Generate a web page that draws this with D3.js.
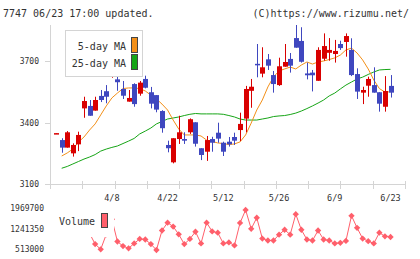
<!DOCTYPE html>
<html>
<head>
<meta charset="utf-8">
<script src="https://cdn.jsdelivr.net/npm/d3@7"></script>
<style>
body { margin: 0; background: #fff; }
svg text { font-family: "DejaVu Sans Mono", monospace; fill: #333; }
</style>
</head>
<body>
<div id="canvas"></div>
<script>
"use strict"

/* Daily prices, one entry per trading day (61 days, last one is 6/23) */
let opens = [3346, 3315, 3278, 3250, 3294, 3470, 3482, 3459, 3531, 3554,
    3650, 3612, 3565, 3503, 3589, 3542, 3614, 3549, 3535, 3457,
    3291, 3206, 3320, 3320, 3353, 3402, 3275, 3258, 3320, 3351,
    3302, 3307, 3330, 3364, 3420, 3556, 3688, 3640, 3710, 3633,
    3584, 3674, 3712, 3814, 3800, 3641, 3645, 3605, 3713, 3742,
    3736, 3785, 3795, 3756, 3638, 3547, 3581, 3584, 3549, 3478, 3580];
let highs = [3349, 3324, 3359, 3299, 3356, 3527, 3511, 3527, 3560, 3584,
    3695, 3625, 3604, 3560, 3593, 3604, 3630, 3575, 3535, 3461,
    3312, 3324, 3434, 3353, 3421, 3402, 3275, 3335, 3331, 3400,
    3307, 3330, 3351, 3449, 3580, 3614, 3785, 3769, 3736, 3653,
    3718, 3785, 3741, 3878, 3867, 3694, 3658, 3769, 3837, 3814,
    3805, 3801, 3837, 3813, 3666, 3576, 3625, 3671, 3549, 3628, 3633];
let lows = [3346, 3253, 3278, 3234, 3261, 3424, 3434, 3459, 3501, 3495,
    3620, 3556, 3516, 3503, 3478, 3532, 3568, 3470, 3451, 3351,
    3255, 3201, 3296, 3296, 3345, 3283, 3217, 3213, 3258, 3302,
    3237, 3283, 3291, 3310, 3353, 3473, 3622, 3622, 3658, 3547,
    3580, 3674, 3645, 3767, 3694, 3612, 3553, 3605, 3703, 3703,
    3694, 3756, 3723, 3628, 3516, 3491, 3527, 3547, 3454, 3454, 3523];
let closes = [3349, 3278, 3353, 3291, 3340, 3506, 3434, 3511, 3511, 3527,
    3686, 3598, 3532, 3521, 3491, 3596, 3571, 3493, 3464, 3373,
    3275, 3324, 3353, 3312, 3417, 3297, 3242, 3315, 3302, 3322,
    3258, 3294, 3312, 3394, 3565, 3576, 3685, 3671, 3679, 3589,
    3676, 3697, 3679, 3767, 3698, 3632, 3632, 3756, 3775, 3756,
    3751, 3765, 3824, 3633, 3552, 3560, 3614, 3547, 3493, 3555, 3547];

/* Moving averages */
let ma5 = [null, 3237, 3252, 3271, 3305, 3330, 3364, 3394, 3438, 3482,
    3521, 3545, 3567, 3570, 3570, 3567, 3555, 3535, 3516, 3491,
    3462, 3413, 3369, 3340, 3340, 3340, 3335, 3315, 3308, 3301,
    3298, 3293, 3296, 3306, 3340, 3398, 3462, 3511, 3575, 3624,
    3653, 3663, 3672, 3663, 3682, 3697, 3687, 3697, 3702, 3709,
    3717, 3731, 3756, 3765, 3741, 3707, 3663, 3609, 3567, 3550, 3551];
let ma25 = [null, 3177, 3186, 3198, 3210, 3222, 3232, 3244, 3261, 3271,
    3279, 3286, 3298, 3310, 3323, 3345, 3359, 3374, 3394, 3406,
    3418, 3423, 3428, 3435, 3441, 3445, 3443, 3443, 3443, 3443,
    3441, 3435, 3428, 3418, 3413, 3413, 3413, 3418, 3423, 3430,
    3433, 3435, 3440, 3447, 3457, 3469, 3482, 3496, 3511, 3531,
    3545, 3565, 3584, 3599, 3614, 3623, 3636, 3648, 3658, 3660, 3661];

/* Daily volume */
let volumes = [1180000, 1300000, 1250000, 1350000, 1220000, 1450000, 1078000, 697000, 513000, 1044000,
    1585000, 790000, 627000, 548000, 721000, 881000, 860000, 697000, 489000, 1182000,
    1460000, 1321000, 1044000, 697000, 881000, 1137000, 721000, 1460000, 1148000, 1103000,
    721000, 756000, 652000, 1449000, 1911000, 1241000, 1633000, 895000, 825000, 825000,
    1033000, 1207000, 1033000, 1762000, 1207000, 860000, 825000, 1182000, 860000, 825000,
    721000, 742000, 811000, 1703000, 1276000, 895000, 801000, 721000, 1103000, 974000, 950000];

/* Tick labels */
let dateLabels = ["4/8", "4/22", "5/12", "5/26", "6/9", "6/23"];
let dateLabelIndex = [10, 20, 30, 40, 50, 60];
let priceTicks = [3100, 3400, 3700];
let volumeTicks = [513000, 1241350, 1969700];

let drawing = d3.select("#canvas")
    .append("svg")
    .attr("width", 420)
    .attr("height", 259);

let days = d3.range(closes.length);

/* Scales */
let x = d3.scaleLinear()
    .domain([-1.1, 62.6])
    .range([50, 405]);
let y = d3.scaleLinear()
    .domain([3100, 3878])
    .range([184, 25]);
let yVol = d3.scaleLinear()
    .domain([513000, 1969700])
    .range([249.3, 208.3]);

/* Header texts */
drawing.append("text")
    .attr("x", 3)
    .attr("y", 17)
    .attr("font-size", 10)
    .text("7747 06/23 17:00 updated.");
drawing.append("text")
    .attr("x", 409)
    .attr("y", 17)
    .attr("font-size", 10)
    .attr("text-anchor", "end")
    .text("(C)https://www.rizumu.net/");

/* Axes */
let axisColor = "#d4d4d4";
drawing.append("line")
    .attr("x1", 50.5).attr("x2", 50.5)
    .attr("y1", 25).attr("y2", 189)
    .attr("stroke", axisColor);
drawing.append("line")
    .attr("x1", 45).attr("x2", 405)
    .attr("y1", 184.5).attr("y2", 184.5)
    .attr("stroke", axisColor);

/* x ticks: evenly spaced along the bottom */
let xTicks = d3.range(12).map(i => 50 + i * (405 - 50) / 11);
drawing.selectAll(".xtick")
    .data(xTicks)
    .enter()
    .append("line")
    .attr("x1", d => Math.round(d) + 0.5)
    .attr("x2", d => Math.round(d) + 0.5)
    .attr("y1", 181)
    .attr("y2", 189)
    .attr("stroke", axisColor);

drawing.selectAll(".ytick")
    .data(priceTicks)
    .enter()
    .append("line")
    .attr("x1", 45)
    .attr("x2", 50)
    .attr("y1", d => Math.round(y(d)) + 0.5)
    .attr("y2", d => Math.round(y(d)) + 0.5)
    .attr("stroke", axisColor);

drawing.selectAll(".ylabel")
    .data(priceTicks)
    .enter()
    .append("text")
    .attr("x", 39)
    .attr("y", d => y(d) + 3)
    .attr("font-size", 8)
    .attr("text-anchor", "end")
    .text(d => d);

drawing.selectAll(".xlabel")
    .data(dateLabels)
    .enter()
    .append("text")
    .attr("x", (d, i) => x(dateLabelIndex[i]))
    .attr("y", 201)
    .attr("font-size", 8.5)
    .attr("text-anchor", "middle")
    .text(d => d);

/* Moving averages */
let maLine = d3.line()
    .defined(d => d != null)
    .x((d, i) => x(i))
    .y(d => y(d));

drawing.append("path")
    .attr("d", maLine(ma25))
    .attr("fill", "none")
    .attr("stroke", "#16a516")
    .attr("stroke-width", 1);
drawing.append("path")
    .attr("d", maLine(ma5))
    .attr("fill", "none")
    .attr("stroke", "#f39019")
    .attr("stroke-width", 1);

/* Candles */
let upColor = "#d90000";
let downColor = "#3f47bf";
let candles = drawing.selectAll(".candle")
    .data(days)
    .enter()
    .append("g");

candles.append("line")
    .attr("x1", i => Math.round(x(i)) + 0.5)
    .attr("x2", i => Math.round(x(i)) + 0.5)
    .attr("y1", i => y(highs[i]))
    .attr("y2", i => y(lows[i]))
    .attr("stroke", i => closes[i] >= opens[i] ? upColor : downColor);

candles.append("rect")
    .attr("x", i => Math.round(x(i)) - 2)
    .attr("width", 5)
    .attr("y", i => y(Math.max(opens[i], closes[i])))
    .attr("height", i => Math.max(1.5, y(Math.min(opens[i], closes[i])) - y(Math.max(opens[i], closes[i]))))
    .attr("fill", i => closes[i] >= opens[i] ? upColor : downColor);

/* Price legend */
drawing.append("rect")
    .attr("x", 65.5).attr("y", 30.5)
    .attr("width", 77).attr("height", 46)
    .attr("fill", "#fff")
    .attr("stroke", "#d4d4d4");
drawing.append("text")
    .attr("x", 126).attr("y", 50)
    .attr("font-size", 10)
    .attr("text-anchor", "end")
    .text("5-day MA");
drawing.append("text")
    .attr("x", 126).attr("y", 67)
    .attr("font-size", 10)
    .attr("text-anchor", "end")
    .text("25-day MA");
drawing.append("rect")
    .attr("x", 131.5).attr("y", 37.5)
    .attr("width", 6).attr("height", 15)
    .attr("fill", "#f39019")
    .attr("stroke", "#444");
drawing.append("rect")
    .attr("x", 131.5).attr("y", 54.5)
    .attr("width", 6).attr("height", 15)
    .attr("fill", "#16a516")
    .attr("stroke", "#444");

/* Volume */
let volColor = "#ff5f6b";
let volLine = d3.line()
    .x((d, i) => x(i))
    .y(d => yVol(d));

drawing.append("path")
    .attr("d", volLine(volumes))
    .attr("fill", "none")
    .attr("stroke", volColor)
    .attr("stroke-width", 1);

drawing.selectAll(".vdot")
    .data(volumes)
    .enter()
    .append("path")
    .attr("d", d3.symbol(d3.symbolSquare, 20))
    .attr("transform", (d, i) => "translate(" + x(i) + "," + yVol(d) + ") rotate(45)")
    .attr("fill", volColor);

drawing.selectAll(".vlabel")
    .data(volumeTicks)
    .enter()
    .append("text")
    .attr("x", 44)
    .attr("y", d => yVol(d) + 3)
    .attr("font-size", 8)
    .attr("text-anchor", "end")
    .text(d => d);

/* Volume legend sits on a white patch over the start of the line */
drawing.append("rect")
    .attr("x", 51).attr("y", 203)
    .attr("width", 63).attr("height", 34)
    .attr("fill", "#fff");
drawing.append("text")
    .attr("x", 59).attr("y", 225)
    .attr("font-size", 10)
    .text("Volume");
drawing.append("rect")
    .attr("x", 101.5).attr("y", 213.5)
    .attr("width", 6).attr("height", 14)
    .attr("fill", volColor)
    .attr("stroke", "#444");
</script>
</body>
</html>
